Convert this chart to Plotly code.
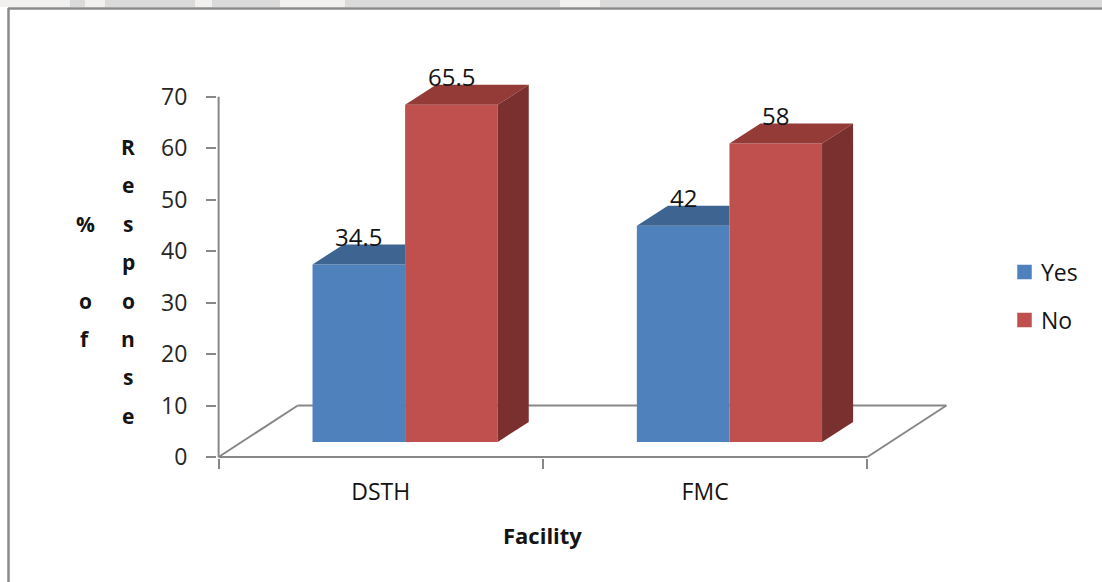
import plotly.graph_objects as go

# ---- data -------------------------------------------------------------
categories = ["DSTH", "FMC"]
series_names = ["Yes", "No"]
yes_values = [34.5, 42]
no_values = [65.5, 58]
y_tick_values = [0, 10, 20, 30, 40, 50, 60, 70]
x_title = "Facility"
y_title_left = "% of"       # stacked letters, one per row
y_title_right = "Response"

series_values = [yes_values, no_values]
front_colors = ["#4F81BD", "#C0504D"]
top_colors = ["#3E6591", "#943B38"]
side_colors = ["#375A84", "#7A302E"]
AXIS_GREY = "#878787"
FONT = "Open Sans"

# ---- canvas / plot-area geometry (pixels) ------------------------------
W, H = 1102, 582
M_L, M_R, M_T, M_B = 217, 152, 71, 124
X_RANGE = [-0.505, 1.755]
Y_RANGE = [-0.2, 75]
PLOT_W = W - M_L - M_R
PLOT_H = H - M_T - M_B


def px_x(px):
    return (px - M_L) / PLOT_W


def px_y(py):
    return (H - M_B - py) / PLOT_H


# ---- pseudo-3D projection (axis units) ---------------------------------
FLOOR_DX, FLOOR_DY = 0.244, 10.0     # depth of the floor
FACE_DX, FACE_DY = 0.075, 2.92       # columns' front face sits this far back
DEPTH_DX, DEPTH_DY = 0.0957, 3.89    # depth of each column
BAR_W = 0.2855
GROUP_PAD = (1 - len(series_names) * BAR_W) / 2

fig = go.Figure()

# front faces as real bars
for k, (name, vals) in enumerate(zip(series_names, series_values)):
    offset = -0.5 + FACE_DX + GROUP_PAD + k * BAR_W
    fig.add_trace(go.Bar(
        x=list(range(len(categories))), y=vals, base=FACE_DY,
        width=BAR_W, offset=offset, name=name,
        marker=dict(color=front_colors[k], line=dict(width=0)),
        showlegend=False, hoverinfo="skip",
    ))

# top and side faces
for k, vals in enumerate(series_values):
    for i, v in enumerate(vals):
        xl = i - 0.5 + FACE_DX + GROUP_PAD + k * BAR_W
        xr = xl + BAR_W
        b = FACE_DY
        t = b + v
        nxt = series_values[k + 1][i] if k + 1 < len(series_values) else None
        hidden = nxt is not None and nxt >= v + DEPTH_DY
        if hidden:
            top_x = [xl, xr, xr, xl + DEPTH_DX, xl]
            top_y = [t, t, t + DEPTH_DY, t + DEPTH_DY, t]
        else:
            top_x = [xl, xr, xr + DEPTH_DX, xl + DEPTH_DX, xl]
            top_y = [t, t, t + DEPTH_DY, t + DEPTH_DY, t]
        fig.add_trace(go.Scatter(
            x=top_x, y=top_y, fill="toself", fillcolor=top_colors[k],
            mode="lines", line=dict(width=0, color=top_colors[k]),
            showlegend=False, hoverinfo="skip"))
        if not hidden:
            fig.add_trace(go.Scatter(
                x=[xr, xr + DEPTH_DX, xr + DEPTH_DX, xr, xr],
                y=[b, b + DEPTH_DY, t + DEPTH_DY, t, b],
                fill="toself", fillcolor=side_colors[k],
                mode="lines", line=dict(width=0, color=side_colors[k]),
                showlegend=False, hoverinfo="skip"))

shapes = []
# floor outline and axis lines (beneath the columns)
n_cat = len(categories)
floor = [(-0.5, 0), (n_cat - 0.5, 0),
         (n_cat - 0.5 + FLOOR_DX, FLOOR_DY), (-0.5 + FLOOR_DX, FLOOR_DY)]
for j in range(4):
    (x0, y0), (x1, y1) = floor[j], floor[(j + 1) % 4]
    shapes.append(dict(type="line", xref="x", yref="y", x0=x0, y0=y0,
                       x1=x1, y1=y1, layer="below",
                       line=dict(color=AXIS_GREY, width=2)))
shapes.append(dict(type="line", xref="x", yref="y", x0=-0.5, y0=0,
                   x1=-0.5, y1=max(y_tick_values), layer="below",
                   line=dict(color=AXIS_GREY, width=2)))

# page strip and frame
shapes.append(dict(type="rect", xref="paper", yref="paper",
                   x0=px_x(0), x1=px_x(W), y0=px_y(0), y1=px_y(7),
                   fillcolor="#dadada", line=dict(width=0), layer="below"))
for gx0, gx1 in [(0, 70), (85, 105), (195, 212), (280, 345), (560, 600)]:
    shapes.append(dict(type="rect", xref="paper", yref="paper",
                       x0=px_x(gx0), x1=px_x(gx1), y0=px_y(0), y1=px_y(7),
                       fillcolor="#f2f0ef", line=dict(width=0), layer="below"))
shapes.append(dict(type="line", xref="paper", yref="paper",
                   x0=px_x(8), y0=px_y(8.5), x1=px_x(W), y1=px_y(8.5),
                   line=dict(color="#8a8a8a", width=2.5)))
shapes.append(dict(type="line", xref="paper", yref="paper",
                   x0=px_x(8.5), y0=px_y(8), x1=px_x(8.5), y1=px_y(H),
                   line=dict(color="#8a8a8a", width=2.5)))

annotations = []
# data labels
for k, vals in enumerate(series_values):
    for i, v in enumerate(vals):
        xc = i - 0.5 + FACE_DX + GROUP_PAD + (k + 0.5) * BAR_W
        annotations.append(dict(
            x=xc, y=FACE_DY + v, xref="x", yref="y", text=f"{v:g}",
            showarrow=False, yshift=28, yanchor="middle",
            font=dict(family=FONT, size=24, color="#141414")))

# legend
for k, name in enumerate(series_names):
    cy = 272 + k * 48
    shapes.append(dict(type="rect", xref="paper", yref="paper",
                       x0=px_x(1017), x1=px_x(1032),
                       y0=px_y(cy + 7.5), y1=px_y(cy - 7.5),
                       fillcolor=front_colors[k],
                       line=dict(color="#ffffff", width=0.5)))
    annotations.append(dict(x=px_x(1039), y=px_y(cy), xref="paper",
                            yref="paper", text=name, showarrow=False,
                            xanchor="left", yanchor="middle",
                            font=dict(family=FONT, size=23,
                                      color="#141414")))

# axis titles
annotations.append(dict(x=0.5, y=px_y(535), xref="x", yref="paper",
                        text=f"<b>{x_title}</b>", showarrow=False,
                        xanchor="center", yanchor="middle",
                        font=dict(family=FONT, size=22, color="#141414")))
ROW0, ROW_STEP = 147, 38.4
for col_px, letters, first_row in [(128, y_title_right, 0),
                                   (85, y_title_left, 2)]:
    for r, ch in enumerate(letters):
        if ch.strip() == "":
            continue
        annotations.append(dict(
            x=px_x(col_px), y=px_y(ROW0 + (first_row + r) * ROW_STEP),
            xref="paper", yref="paper", text=f"<b>{ch}</b>",
            showarrow=False, xanchor="center", yanchor="middle",
            font=dict(family=FONT, size=21, color="#141414")))

fig.update_layout(
    width=W, height=H,
    margin=dict(l=M_L, r=M_R, t=M_T, b=M_B),
    paper_bgcolor="white", plot_bgcolor="white",
    barmode="overlay", showlegend=False,
    shapes=shapes, annotations=annotations,
    xaxis=dict(range=X_RANGE, tickvals=list(range(n_cat)),
               ticktext=categories, ticks="", showline=False,
               showgrid=False, zeroline=False, ticklabelstandoff=18,
               tickfont=dict(family=FONT, size=23, color="#141414"),
               minor=dict(tickvals=[i - 0.5 for i in range(n_cat + 1)],
                          ticks="outside", ticklen=10, tickwidth=2,
                          tickcolor=AXIS_GREY, showgrid=False)),
    yaxis=dict(range=Y_RANGE, tickvals=y_tick_values, ticks="outside",
               ticklen=10, tickwidth=2, tickcolor=AXIS_GREY,
               showline=False, showgrid=False, zeroline=False,
               ticklabelstandoff=14,
               tickfont=dict(family=FONT, size=23, color="#262626")),
)

fig.write_html("out.html")
